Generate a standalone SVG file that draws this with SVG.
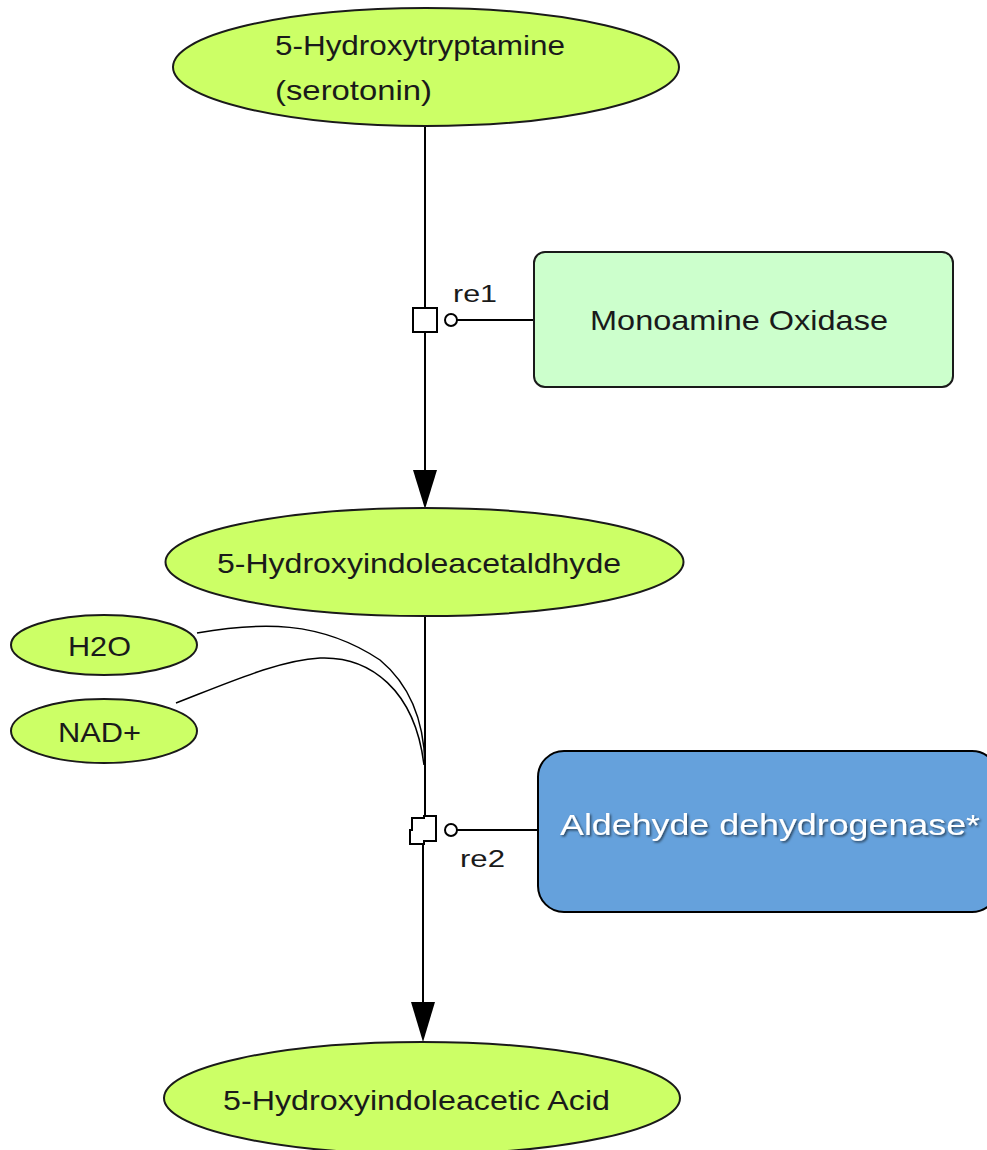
<svg xmlns="http://www.w3.org/2000/svg" width="987" height="1150" viewBox="0 0 987 1150">
<defs>
<style>
.sp{fill:#ccff66;stroke:#1a1a1a;stroke-width:2}
.t{font-family:"Liberation Sans",Arial,sans-serif;font-size:28px;fill:#1a1a1a}
.lbl{font-family:"Liberation Sans",Arial,sans-serif;font-size:24px;fill:#1a1a1a}
.ln{fill:none;stroke:#000;stroke-width:2}
.cv{fill:none;stroke:#000;stroke-width:1.5}
</style>
<filter id="sh" x="-5%" y="-20%" width="110%" height="140%">
<feDropShadow dx="1.5" dy="1.5" stdDeviation="1" flood-color="#000" flood-opacity="0.6"/>
</filter>
</defs>
<g id="connectors">
<line class="ln" x1="425" y1="127" x2="425" y2="307"/>
<line class="ln" x1="425" y1="331" x2="425" y2="470"/>
<path d="M413,470 L437,470 L425,509 Z" fill="#000"/>
<line class="ln" x1="457" y1="320" x2="533" y2="320"/>
<circle cx="451" cy="320" r="6" fill="#fff" stroke="#000" stroke-width="2"/>
<line class="ln" x1="425" y1="616" x2="425" y2="817"/>
<path class="cv" d="M197,633 C260,622 320,620 380,660 C410,685 424,720 425,765"/>
<path class="cv" d="M176,703 C230,682 280,660 320,658 C370,656 415,690 424,765"/>
<line class="ln" x1="423" y1="843" x2="423" y2="1002"/>
<path d="M411,1002 L435,1002 L423,1042 Z" fill="#000"/>
<line class="ln" x1="457" y1="830" x2="538" y2="830"/>
<circle cx="451" cy="830" r="6" fill="#fff" stroke="#000" stroke-width="2"/>
</g>
<g id="re1">
<rect x="413" y="308" width="24" height="24" fill="#fff" stroke="#000" stroke-width="2"/>
<text class="lbl" x="453" y="302" textLength="44" lengthAdjust="spacingAndGlyphs">re1</text>
</g>
<g id="re2">
<path d="M412,818 L424,818 L424,816 L436,816 L436,841 L424,841 L424,844 L410,844 L410,830 L412,830 Z" fill="#fff" stroke="#000" stroke-width="2"/>
<text class="lbl" x="460" y="867" textLength="45" lengthAdjust="spacingAndGlyphs">re2</text>
</g>
<g id="serotonin">
<ellipse class="sp" cx="426" cy="67" rx="253" ry="59"/>
<text class="t" x="275" y="55" textLength="290" lengthAdjust="spacingAndGlyphs">5-Hydroxytryptamine</text>
<text class="t" x="275" y="100" textLength="157" lengthAdjust="spacingAndGlyphs">(serotonin)</text>
</g>
<g id="mao">
<rect x="534" y="252" width="419" height="135" rx="11" ry="11" fill="#ccffcc" stroke="#1a1a1a" stroke-width="2"/>
<text class="t" x="590" y="330" textLength="298" lengthAdjust="spacingAndGlyphs">Monoamine Oxidase</text>
</g>
<g id="aldehyde">
<ellipse class="sp" cx="424.5" cy="562" rx="259" ry="54"/>
<text class="t" x="217" y="573" textLength="404" lengthAdjust="spacingAndGlyphs">5-Hydroxyindoleacetaldhyde</text>
</g>
<g id="h2o">
<ellipse class="sp" cx="104" cy="645" rx="93" ry="30"/>
<text class="t" x="68" y="656" textLength="63" lengthAdjust="spacingAndGlyphs">H2O</text>
</g>
<g id="nad">
<ellipse class="sp" cx="104" cy="731" rx="93" ry="32"/>
<text class="t" x="58" y="742" textLength="83" lengthAdjust="spacingAndGlyphs">NAD+</text>
</g>
<g id="aldh">
<rect x="538" y="751" width="460" height="161" rx="26" ry="26" fill="#65a1dc" stroke="#000" stroke-width="2"/>
<text x="560" y="835" font-family="'Liberation Sans',Arial,sans-serif" font-size="29" fill="#fff" filter="url(#sh)" textLength="420" lengthAdjust="spacingAndGlyphs">Aldehyde dehydrogenase*</text>
</g>
<g id="hiaa">
<ellipse class="sp" cx="422" cy="1098" rx="258" ry="56"/>
<text class="t" x="223" y="1110" textLength="387" lengthAdjust="spacingAndGlyphs">5-Hydroxyindoleacetic Acid</text>
</g>
</svg>
